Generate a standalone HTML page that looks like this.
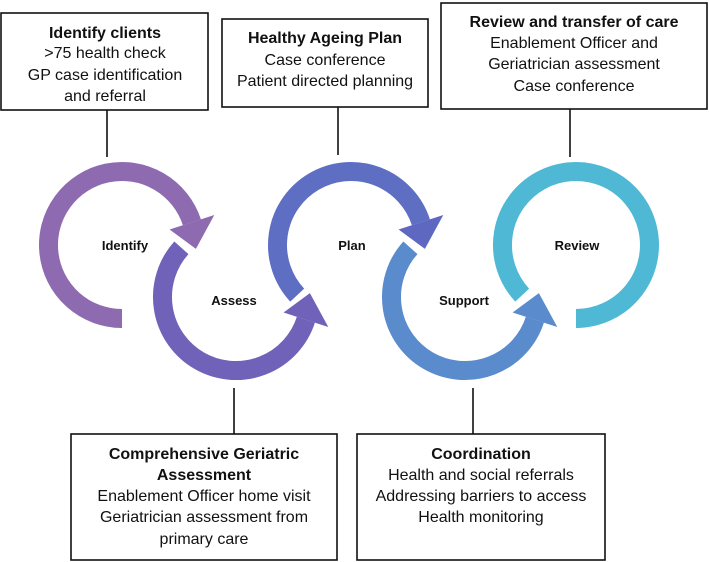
<!DOCTYPE html>
<html><head><meta charset="utf-8"><style>
html,body{margin:0;padding:0;background:#fff;}
svg{display:block;}
text{font-family:"Liberation Sans",sans-serif;fill:#111;}
.t{font-size:16px;text-anchor:middle;}
.b{font-weight:bold;}
.l{font-size:13px;font-weight:bold;text-anchor:middle;}
</style></head><body>
<svg width="709" height="562" viewBox="0 0 709 562" xmlns="http://www.w3.org/2000/svg">
<g fill="#fff" stroke="#111" stroke-width="1.6">
<rect x="1" y="13" width="207" height="97"/>
<rect x="222" y="19" width="206" height="88"/>
<rect x="441" y="3" width="266" height="106"/>
<rect x="71" y="434" width="266" height="126"/>
<rect x="357" y="434" width="248" height="126"/>
</g>
<g stroke="#111" stroke-width="1.6">
<line x1="107" y1="110" x2="107" y2="157"/>
<line x1="338" y1="107" x2="338" y2="155"/>
<line x1="570" y1="109" x2="570" y2="157"/>
<line x1="234" y1="388" x2="234" y2="434"/>
<line x1="473" y1="388" x2="473" y2="434"/>
</g>
<g fill="none" stroke-width="19">
<path d="M122 318.5 A73.5 73.5 0 1 1 191.9 222.3" stroke="#8e6bb1"/>
<path d="M181.4 247.8 A73.5 73.5 0 1 0 305.9 319.7" stroke="#6f62b8"/>
<path d="M297.2 295.1 A73.5 73.5 0 1 1 420.9 222.3" stroke="#5e6ec3"/>
<path d="M410.4 247.8 A73.5 73.5 0 1 0 534.9 319.7" stroke="#5a8bcd"/>
<path d="M522.2 295.1 A73.5 73.5 0 1 1 576 318.5" stroke="#4fb8d5"/>
</g>
<polygon points="169.6,229.5 214.3,215 195.9,248.9" fill="#8e6bb1"/>
<polygon points="283.6,312.5 328.3,327 309.9,293.1" fill="#6f62b8"/>
<polygon points="398.6,229.5 443.3,215 424.9,248.9" fill="#5f68c1"/>
<polygon points="512.6,312.5 557.3,327 538.9,293.1" fill="#5a8bcd"/>
<text class="l" x="125" y="250">Identify</text>
<text class="l" x="234" y="305">Assess</text>
<text class="l" x="352" y="250">Plan</text>
<text class="l" x="464" y="305">Support</text>
<text class="l" x="577" y="250">Review</text>
<text class="t b" x="105" y="38">Identify clients</text>
<text class="t" x="105" y="58">&gt;75 health check</text>
<text class="t" x="105" y="80">GP case identification</text>
<text class="t" x="105" y="101">and referral</text>
<text class="t b" x="325" y="43">Healthy Ageing Plan</text>
<text class="t" x="325" y="65">Case conference</text>
<text class="t" x="325" y="86">Patient directed planning</text>
<text class="t b" x="574" y="27">Review and transfer of care</text>
<text class="t" x="574" y="48">Enablement Officer and</text>
<text class="t" x="574" y="69">Geriatrician assessment</text>
<text class="t" x="574" y="91">Case conference</text>
<text class="t b" x="204" y="459">Comprehensive Geriatric</text>
<text class="t b" x="204" y="480">Assessment</text>
<text class="t" x="204" y="501">Enablement Officer home visit</text>
<text class="t" x="204" y="522">Geriatrician assessment from</text>
<text class="t" x="204" y="544">primary care</text>
<text class="t b" x="481" y="459">Coordination</text>
<text class="t" x="481" y="480">Health and social referrals</text>
<text class="t" x="481" y="501">Addressing barriers to access</text>
<text class="t" x="481" y="522">Health monitoring</text>
</svg>
</body></html>
